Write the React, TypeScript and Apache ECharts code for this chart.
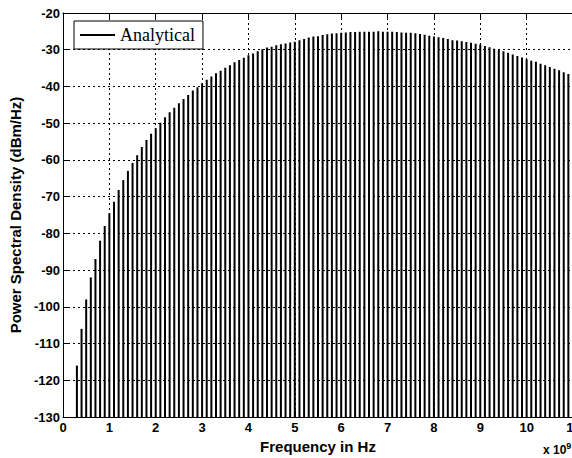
import React, { useEffect, useRef } from "react";
import * as echarts from "echarts";

const freqGHz = [
  0.3, 0.4, 0.5, 0.6, 0.7, 0.8, 0.9, 1.0, 1.1, 1.2, 1.3, 1.4, 1.5, 1.6, 1.7, 1.8, 1.9,
  2.0, 2.1, 2.2, 2.3, 2.4, 2.5, 2.6, 2.7, 2.8, 2.9, 3.0, 3.1, 3.2, 3.3, 3.4, 3.5, 3.6,
  3.7, 3.8, 3.9, 4.0, 4.1, 4.2, 4.3, 4.4, 4.5, 4.6, 4.7, 4.8, 4.9, 5.0, 5.1, 5.2, 5.3,
  5.4, 5.5, 5.6, 5.7, 5.8, 5.9, 6.0, 6.1, 6.2, 6.3, 6.4, 6.5, 6.6, 6.7, 6.8, 6.9, 7.0,
  7.1, 7.2, 7.3, 7.4, 7.5, 7.6, 7.7, 7.8, 7.9, 8.0, 8.1, 8.2, 8.3, 8.4, 8.5, 8.6, 8.7,
  8.8, 8.9, 9.0, 9.1, 9.2, 9.3, 9.4, 9.5, 9.6, 9.7, 9.8, 9.9, 10.0, 10.1, 10.2, 10.3,
  10.4, 10.5, 10.6, 10.7, 10.8, 10.9,
];

const psdAnalytical = [
  -116, -106, -98, -92, -87, -82, -78, -74.5, -71.4, -68.2, -65.5, -63, -60.8, -58.7,
  -56.5, -54.6, -52.9, -51.4, -49.9, -48.4, -47.0, -45.8, -44.6, -43.4, -42.3, -41.1,
  -40.2, -39.1, -38.2, -37.3, -36.4, -35.7, -34.9, -34.2, -33.4, -32.8, -32.2, -31.5,
  -31.0, -30.4, -29.9, -29.4, -29.2, -28.8, -28.5, -28.3, -28.0, -27.8, -27.4, -27.1,
  -26.7, -26.4, -26.3, -26.0, -25.8, -25.6, -25.5, -25.4, -25.3, -25.2, -25.2, -25.1,
  -25.1, -25.1, -25.1, -25.0, -25.1, -25.1, -25.1, -25.2, -25.3, -25.4, -25.4, -25.5,
  -25.7, -25.9, -26.2, -26.4, -26.6, -26.8, -27.1, -27.4, -27.5, -27.7, -27.9, -28.1,
  -28.4, -28.6, -29.0, -29.3, -29.7, -30.1, -30.4, -30.8, -31.3, -31.7, -32.1, -32.6,
  -33.0, -33.3, -33.8, -34.2, -34.7, -35.2, -35.6, -36.1, -36.6,
];

const seriesName = "Analytical";
const xLabel = "Frequency in Hz";
const yLabel = "Power Spectral Density (dBm/Hz)";
const xMin = 0;
const xMax = 11;
const yMin = -130;
const yMax = -20;

const SANS = "'Liberation Sans', Arial, sans-serif";
const SERIF = "'Liberation Serif', 'Times New Roman', serif";

export default function App() {
  const ref = useRef<HTMLDivElement>(null);

  useEffect(() => {
    document.body.style.margin = "0";
    if (!ref.current) return;
    const chart = echarts.init(ref.current, undefined, { renderer: "svg" });
    const data = freqGHz.map((f, i) => [f, psdAnalytical[i]]);

    const gridLine = { show: true, lineStyle: { color: "#000", width: 1, type: [2, 3] as any } };
    const axisLine = { show: true, lineStyle: { color: "#000", width: 1 } };
    const tick = { show: true, inside: true, length: 6, lineStyle: { color: "#000", width: 1 } };

    chart.setOption({
      animation: false,
      backgroundColor: "#fff",
      grid: {
        left: 63,
        right: -1,
        top: 13,
        bottom: 41,
        containLabel: false,
        outerBoundsMode: "none",
      },
      legend: {
        show: true,
        left: 74,
        top: 21,
        orient: "horizontal",
        padding: [5, 8, 5, 6],
        itemWidth: 35,
        itemHeight: 2,
        backgroundColor: "#fff",
        borderColor: "#000",
        borderWidth: 1,
        borderRadius: 0,
        data: [{ name: seriesName, icon: "rect", itemStyle: { color: "#000" } }],
        textStyle: { fontFamily: SERIF, fontSize: 18, color: "#000", padding: [0, 0, 0, 0] },
        z: 10,
      },
      xAxis: [
        {
          type: "value",
          position: "bottom",
          min: xMin,
          max: xMax,
          interval: 1,
          name: xLabel,
          nameLocation: "middle",
          nameGap: 18,
          nameTextStyle: { fontFamily: SANS, fontSize: 15, fontWeight: "bold", color: "#000" },
          axisLine,
          axisTick: tick,
          axisLabel: {
            fontFamily: SANS,
            fontSize: 13,
            fontWeight: "bold",
            color: "#000",
            margin: 4,
            showMinLabel: true,
            showMaxLabel: true,
            hideOverlap: false,
          },
          splitLine: gridLine,
        },
        {
          type: "value",
          position: "top",
          min: xMin,
          max: xMax,
          interval: 1,
          axisLine,
          axisTick: tick,
          axisLabel: { show: false },
          splitLine: { show: false },
        },
      ],
      yAxis: [
        {
          type: "value",
          position: "left",
          min: yMin,
          max: yMax,
          interval: 10,
          name: yLabel,
          nameLocation: "middle",
          nameGap: 37,
          nameRotate: 90,
          nameTextStyle: { fontFamily: SANS, fontSize: 15, fontWeight: "bold", color: "#000" },
          axisLine,
          axisTick: tick,
          axisLabel: {
            fontFamily: SANS,
            fontSize: 13,
            fontWeight: "bold",
            color: "#000",
            margin: 3,
          },
          splitLine: gridLine,
        },
      ],
      graphic: [
        {
          type: "text",
          left: 543,
          top: 441,
          z: 20,
          style: {
            text: "x 10{sup|9}",
            font: `bold 12px ${SANS}`,
            fill: "#000",
            rich: {
              sup: { fontFamily: SANS, fontSize: 9, fontWeight: "bold", verticalAlign: "top", padding: [0, 0, 8, 0] },
            },
          },
        },
      ],
      series: [
        {
          name: seriesName,
          type: "custom",
          xAxisIndex: 0,
          yAxisIndex: 0,
          itemStyle: { color: "#000" },
          data,
          clip: true,
          renderItem: (params: any, api: any) => {
            const x = api.value(0);
            const v = api.value(1);
            const top = api.coord([x, v]);
            const bottom = api.coord([x, yMin]);
            return {
              type: "line",
              shape: { x1: top[0], y1: top[1], x2: bottom[0], y2: bottom[1] },
              style: { stroke: "#000", lineWidth: 2 },
            };
          },
        },
      ],
    });

    return () => chart.dispose();
  }, []);

  return <div ref={ref} style={{ width: 572, height: 458 }} />;
}
